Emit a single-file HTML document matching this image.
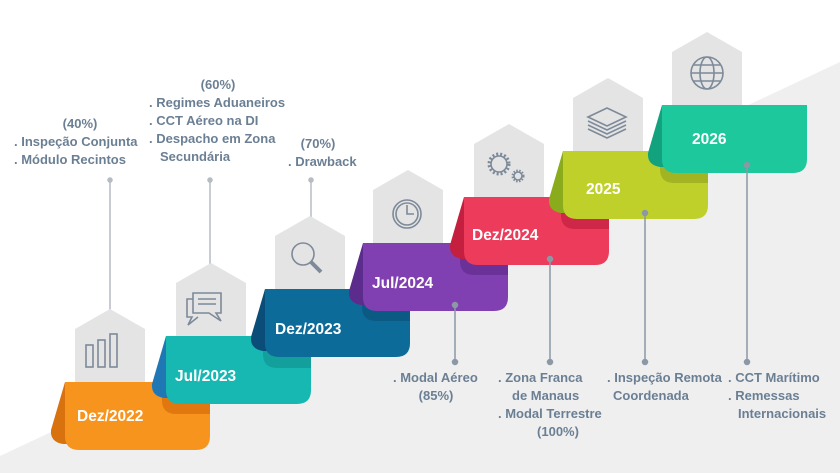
<!DOCTYPE html>
<html><head><meta charset="utf-8"><style>
html,body{margin:0;padding:0;background:#fff}
svg{display:block}
.t{font-family:"Liberation Sans",sans-serif;font-size:13px;fill:#6b7f94;font-weight:bold}
.k{font-family:"Liberation Sans",sans-serif;font-size:15.5px;fill:#fff;font-weight:bold}
.ic{fill:none;stroke:#7d8a99;stroke-width:1.6}
</style></head><body>
<svg width="840" height="473" viewBox="0 0 840 473" xmlns="http://www.w3.org/2000/svg">
<defs>
<path id="hex" d="M10,0 V-53 L45,-73 L80,-53 V0 Z" fill="#e4e4e4"/>
<path id="body" d="M0,0 H145 V54 Q145,68 131,68 H14 Q0,68 0,54 Z"/>
<path id="flap" d="M0,0 L-14,48 Q-15,60 -2,62 L2,62 Z"/>
<path id="sh" d="M97,0 H145 V32 H111 Q97,32 97,18 Z"/>
</defs>
<polygon points="0,456 840,62 840,473 0,473" fill="#efefef"/>

<g stroke="#b5bcc4" stroke-width="1.5" fill="#b5bcc4">
<line x1="110" y1="180" x2="110" y2="317"/><circle cx="110" cy="180" r="2"/><circle cx="110" cy="317" r="2.5"/>
<line x1="210" y1="180" x2="210" y2="271"/><circle cx="210" cy="180" r="2"/><circle cx="210" cy="271" r="2.5"/>
<line x1="311" y1="180" x2="311" y2="225"/><circle cx="311" cy="180" r="2"/><circle cx="311" cy="225" r="2.5"/>
</g>

<use href="#hex" x="65" y="382"/><use href="#hex" x="166" y="336"/><use href="#hex" x="265" y="289"/>
<use href="#hex" x="363" y="243"/><use href="#hex" x="464" y="197"/><use href="#hex" x="563" y="151"/><use href="#hex" x="662" y="105"/>

<g class="ic" transform="translate(-6,0)">
<rect x="92" y="345" width="7" height="22"/><rect x="104" y="340" width="7" height="27"/><rect x="116" y="334" width="7" height="33"/>
<path d="M199,293 h28 v20 h-5 l5,8 l-12,-8 h-16 z"/><path d="M199,299 h-6 v18 h5 l-4,8 l10,-8"/><path d="M204,299 h18 M204,304 h18"/>
<circle cx="309" cy="254" r="11"/><path d="M317,262 l10,10" stroke-width="4"/>
<circle cx="413" cy="214" r="14"/><circle cx="413" cy="214" r="11"/><path d="M413,205 v9 h7"/>
<circle cx="505" cy="164" r="8"/><circle cx="505" cy="164" r="10" stroke-dasharray="2 2" stroke-width="3"/><circle cx="524" cy="176" r="4"/><circle cx="524" cy="176" r="5.5" stroke-dasharray="1.5 1.5" stroke-width="2"/>
<path d="M594,117 l19,-9 l19,9 l-19,9 z M594,121 l19,9 l19,-9 M594,125 l19,9 l19,-9 M594,129 l19,9 l19,-9"/>
<circle cx="713" cy="73" r="16"/><ellipse cx="713" cy="73" rx="7" ry="16"/><path d="M697,73 h32 M699,65 h28 M699,81 h28"/>
</g>

<g transform="translate(65,382)"><use href="#flap" fill="#d8720f"/><use href="#body" fill="#f7941d"/><text class="k" x="12" y="39">Dez/2022</text></g>
<g transform="translate(65,382)"><use href="#sh" fill="#e0780f"/></g>
<g transform="translate(166,336)"><use href="#flap" fill="#1f78b4"/><use href="#body" fill="#18b8b2"/><text class="k" x="9" y="45">Jul/2023</text></g>
<g transform="translate(166,336)"><use href="#sh" fill="#13a09c"/></g>
<g transform="translate(265,289)"><use href="#flap" fill="#094d78"/><use href="#body" fill="#0d6b9a"/><text class="k" x="10" y="45">Dez/2023</text></g>
<g transform="translate(265,289)"><use href="#sh" fill="#0a5a84"/></g>
<g transform="translate(363,243)"><use href="#flap" fill="#5c2c8c"/><use href="#body" fill="#8140b2"/><text class="k" x="9" y="45">Jul/2024</text></g>
<g transform="translate(363,243)"><use href="#sh" fill="#6a3299"/></g>
<g transform="translate(464,197)"><use href="#flap" fill="#c41f3f"/><use href="#body" fill="#ec3b5b"/><text class="k" x="8" y="43">Dez/2024</text></g>
<g transform="translate(464,197)"><use href="#sh" fill="#cf2747"/></g>
<g transform="translate(563,151)"><use href="#flap" fill="#8aac1c"/><use href="#body" fill="#c0d02b"/><text class="k" x="23" y="43">2025</text></g>
<g transform="translate(563,151)"><use href="#sh" fill="#a3b423"/></g>
<g transform="translate(662,105)"><use href="#flap" fill="#12a27d"/><use href="#body" fill="#1dc89d"/><text class="k" x="30" y="39">2026</text></g>

<g stroke="#8b98a6" stroke-width="1.5" fill="#8b98a6">
<line x1="455" y1="305" x2="455" y2="362"/><circle cx="455" cy="305" r="2.5"/><circle cx="455" cy="362" r="2.5"/>
<line x1="550" y1="259" x2="550" y2="362"/><circle cx="550" cy="259" r="2.5"/><circle cx="550" cy="362" r="2.5"/>
<line x1="645" y1="213" x2="645" y2="362"/><circle cx="645" cy="213" r="2.5"/><circle cx="645" cy="362" r="2.5"/>
<line x1="747" y1="165" x2="747" y2="362"/><circle cx="747" cy="165" r="2.5"/><circle cx="747" cy="362" r="2.5"/>
</g>

<text class="t" x="80" y="128" text-anchor="middle">(40%)</text>
<text class="t" x="14" y="146">.  Inspeção Conjunta</text>
<text class="t" x="14" y="164">.  Módulo Recintos</text>
<text class="t" x="218" y="89" text-anchor="middle">(60%)</text>
<text class="t" x="149" y="107">.  Regimes Aduaneiros</text>
<text class="t" x="149" y="125">.  CCT Aéreo na DI</text>
<text class="t" x="149" y="143">.  Despacho em Zona</text>
<text class="t" x="160" y="161">Secundária</text>
<text class="t" x="318" y="148" text-anchor="middle">(70%)</text>
<text class="t" x="288" y="166">. Drawback</text>

<text class="t" x="393" y="382">. Modal Aéreo</text>
<text class="t" x="436" y="400" text-anchor="middle">(85%)</text>
<text class="t" x="498" y="382">.  Zona Franca</text>
<text class="t" x="512" y="400">de Manaus</text>
<text class="t" x="498" y="418">.  Modal Terrestre</text>
<text class="t" x="558" y="436" text-anchor="middle">(100%)</text>
<text class="t" x="607" y="382">. Inspeção Remota</text>
<text class="t" x="613" y="400">Coordenada</text>
<text class="t" x="728" y="382">.  CCT Marítimo</text>
<text class="t" x="728" y="400">.  Remessas</text>
<text class="t" x="738" y="418">Internacionais</text>
</svg>
</body></html>
